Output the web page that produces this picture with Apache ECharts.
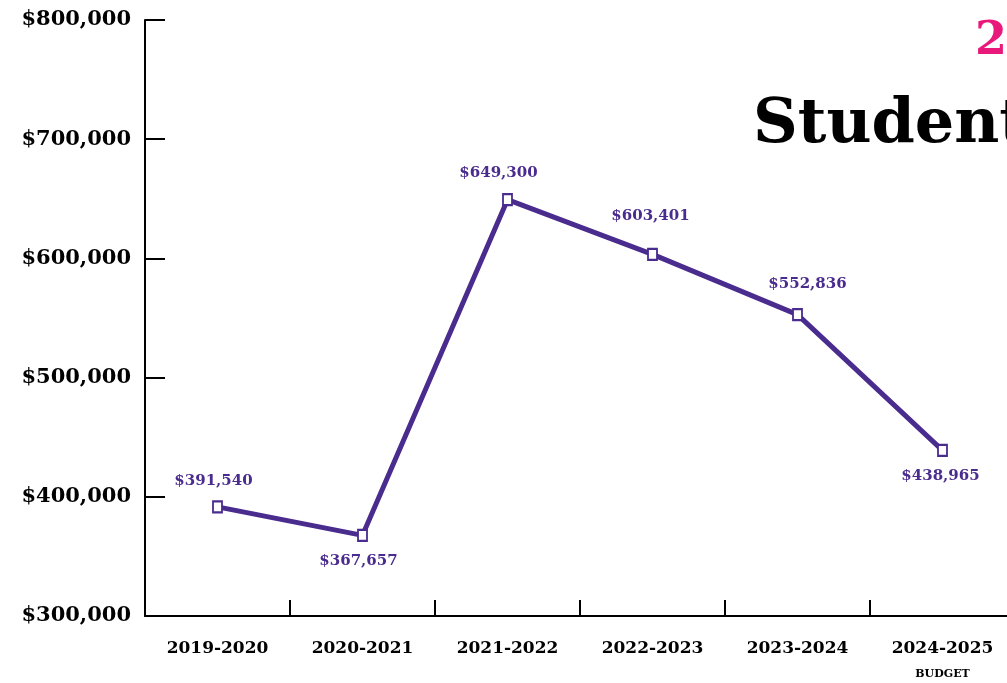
<!DOCTYPE html>
<html>
<head>
<meta charset="utf-8">
<script src="https://cdn.jsdelivr.net/npm/echarts@6/dist/echarts.min.js"></script>
<style>
  html, body { margin: 0; padding: 0; background: #fff; }
  #chart { width: 1007px; height: 683px; }
</style>
</head>
<body>
<div id="chart"></div>
<script>
const years = ['2019-2020', '2020-2021', '2021-2022', '2022-2023', '2023-2024', '2024-2025'];
const funding = [391540, 367657, 649300, 603401, 552836, 438965];
const labelSide = ['top', 'bottom', 'top', 'top', 'top', 'bottom'];
const yTicks = [300000, 400000, 500000, 600000, 700000, 800000];

const PURPLE = '#4a2c8e';
const SERIF = '"DejaVu Serif", serif';

const chart = echarts.init(document.getElementById('chart'));

const fmt = v => '$' + v.toLocaleString('en-US');

// small tweaks so labels sit like the original
const labelOffsets = [[-4, 0], [-4, 0], [-9, 0], [-2, -12], [10, -4], [-2, 0]];

const option = {
  animation: false,
  backgroundColor: '#fff',
  grid: { left: 145, right: -8, top: 20, bottom: 67, outerBoundsMode: 'none' },
  graphic: [
    {
      type: 'text', left: 975, top: 19,
      style: { text: '2', fill: '#e8197a', font: 'bold 46px ' + SERIF }
    },
    {
      type: 'text', left: 753, top: 95,
      style: { text: 'Student', fill: '#000', font: 'bold 62px ' + SERIF }
    }
  ],
  xAxis: {
    type: 'category',
    data: years,
    boundaryGap: true,
    axisLine: { lineStyle: { color: '#000', width: 2 } },
    axisTick: { show: true, inside: true, interval: 0, length: 16, lineStyle: { color: '#000', width: 2 } },
    axisLabel: {
      interval: 0,
      margin: 24,
      color: '#000',
      fontFamily: SERIF,
      fontWeight: 'bold',
      fontSize: 17,
      formatter: (v, i) => i === years.length - 1 ? v + '\n{b|BUDGET}' : v,
      rich: {
        b: { fontFamily: SERIF, fontWeight: 'bold', fontSize: 11, color: '#000', padding: [12, 0, 0, 0] }
      }
    }
  },
  yAxis: {
    type: 'value',
    min: yTicks[0],
    max: yTicks[yTicks.length - 1],
    interval: 100000,
    splitLine: { show: false },
    axisLine: { show: true, lineStyle: { color: '#000', width: 2 } },
    axisTick: { show: true, inside: true, length: 20, lineStyle: { color: '#000', width: 2 } },
    axisLabel: {
      margin: 14,
      color: '#000',
      fontFamily: SERIF,
      fontWeight: 'bold',
      fontSize: 21,
      formatter: fmt
    }
  },
  series: [{
    type: 'line',
    data: funding.map((v, i) => ({
      value: v,
      label: { position: labelSide[i], offset: labelOffsets[i] }
    })),
    lineStyle: { color: PURPLE, width: 5 },
    symbol: 'rect',
    symbolSize: [9, 11],
    itemStyle: { color: '#fff', borderColor: PURPLE, borderWidth: 2 },
    label: {
      show: true,
      distance: 12,
      color: PURPLE,
      fontFamily: SERIF,
      fontWeight: 'bold',
      fontSize: 15,
      formatter: p => fmt(p.value)
    },
    z: 3
  }]
};

chart.setOption(option);
</script>
</body>
</html>
